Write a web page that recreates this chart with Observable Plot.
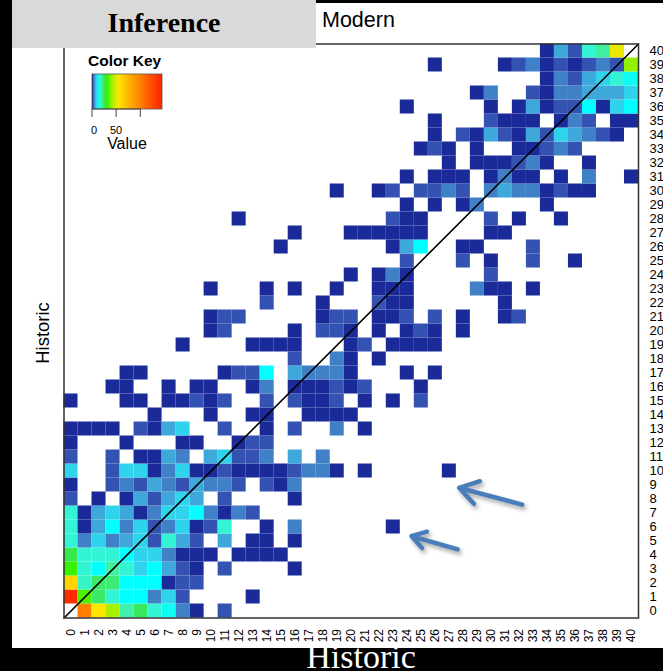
<!DOCTYPE html>
<html>
<head>
<meta charset="utf-8">
<script src="https://cdn.jsdelivr.net/npm/d3@7"></script>
<script src="https://cdn.jsdelivr.net/npm/@observablehq/plot@0.6"></script>
<style>
  html, body { margin: 0; padding: 0; background: #000; }
  #slide { position: relative; width: 663px; height: 671px; background: #000; overflow: hidden; }
  #paper { position: absolute; left: 12px; top: 3px; width: 651px; height: 645px; background: #fff; }
  #chart { position: absolute; left: 0; top: 0; }
  #overlay { position: absolute; left: 0; top: 0; pointer-events: none; }
</style>
</head>
<body>
<div id="slide">
  <div id="paper"></div>
  <div id="chart"></div>
  <svg id="overlay" width="663" height="671"></svg>
</div>
<script>
// ---------------- data ----------------
// tick labels (same categories on both axes)
const tickLabels = [0,1,2,3,4,5,6,7,8,9,10,11,12,13,14,15,16,17,18,19,20,21,22,23,24,25,26,27,28,29,30,31,32,33,34,35,36,37,38,39,40];

// counts: one array per Historic value (top row = 40 first), 41 Modern columns each
const row40 = [0,0,0,0,0,0,0,0,0,0, 0,0,0,0,0,0,0,0,0,0, 0,0,0,0,0,0,0,0,0,0, 0,0,0,0,1,6,2,16,20,52, 0];
const row39 = [0,0,0,0,0,0,0,0,0,0, 0,0,0,0,0,0,0,0,0,0, 0,0,0,0,0,0,1,0,0,0, 0,1,2,4,1,2,1,2,4,2, 40];
const row38 = [0,0,0,0,0,0,0,0,0,0, 0,0,0,0,0,0,0,0,0,0, 0,0,0,0,0,0,0,0,0,0, 0,0,0,0,1,4,2,6,9,16, 13];
const row37 = [0,0,0,0,0,0,0,0,0,0, 0,0,0,0,0,0,0,0,0,0, 0,0,0,0,0,0,0,0,0,1, 4,0,0,2,1,4,4,6,6,6, 9];
const row36 = [0,0,0,0,0,0,0,0,0,0, 0,0,0,0,0,0,0,0,0,0, 0,0,0,0,1,0,0,0,0,0, 1,0,1,6,1,2,2,12,1,9, 12];
const row35 = [0,0,0,0,0,0,0,0,0,0, 0,0,0,0,0,0,0,0,0,0, 0,0,0,0,0,0,1,0,0,0, 2,1,1,1,0,1,4,2,0,1, 1];
const row34 = [0,0,0,0,0,0,0,0,0,0, 0,0,0,0,0,0,0,0,0,0, 0,0,0,0,0,0,1,0,2,1, 6,2,1,6,2,9,6,4,2,1, 0];
const row33 = [0,0,0,0,0,0,0,0,0,0, 0,0,0,0,0,0,0,0,0,0, 0,0,0,0,0,1,2,1,0,1, 0,0,1,1,2,4,2,0,0,0, 0];
const row32 = [0,0,0,0,0,0,0,0,0,0, 0,0,0,0,0,0,0,0,0,0, 0,0,0,0,0,0,0,1,0,1, 1,1,2,4,1,0,0,1,0,0, 0];
const row31 = [0,0,0,0,0,0,0,0,0,0, 0,0,0,0,0,0,0,0,0,0, 0,0,0,0,1,0,1,1,1,0, 1,4,1,1,0,1,0,4,0,0, 1];
const row30 = [0,0,0,0,0,0,0,0,0,0, 0,0,0,0,0,0,0,0,0,1, 0,0,1,2,0,2,2,4,2,0, 4,6,4,4,1,2,1,1,0,0, 0];
const row29 = [0,0,0,0,0,0,0,0,0,0, 0,0,0,0,0,0,0,0,0,0, 0,0,0,0,1,0,1,0,1,4, 0,0,0,0,1,0,0,0,0,0, 0];
const row28 = [0,0,0,0,0,0,0,0,0,0, 0,0,1,0,0,0,0,0,0,0, 0,0,0,2,1,1,0,0,0,0, 2,0,1,0,0,1,0,0,0,0, 0];
const row27 = [0,0,0,0,0,0,0,0,0,0, 0,0,0,0,0,0,1,0,0,0, 1,1,1,1,1,1,0,0,0,0, 1,1,0,0,0,0,0,0,0,0, 0];
const row26 = [0,0,0,0,0,0,0,0,0,0, 0,0,0,0,0,1,0,0,0,0, 0,0,0,1,6,12,0,0,1,1, 0,0,0,2,0,0,0,0,0,0, 0];
const row25 = [0,0,0,0,0,0,0,0,0,0, 0,0,0,0,0,0,0,0,0,0, 0,0,0,0,2,0,0,0,2,0, 1,0,0,2,0,0,1,0,0,0, 0];
const row24 = [0,0,0,0,0,0,0,0,0,0, 0,0,0,0,0,0,0,0,0,0, 1,0,1,4,1,0,0,0,0,0, 2,0,0,0,0,0,0,0,0,0, 0];
const row23 = [0,0,0,0,0,0,0,0,0,0, 1,0,0,0,1,0,1,0,0,1, 0,0,1,1,1,0,0,0,0,4, 1,1,0,1,0,0,0,0,0,0, 0];
const row22 = [0,0,0,0,0,0,0,0,0,0, 0,0,0,0,2,0,0,0,1,0, 0,0,2,1,1,0,0,0,0,0, 0,1,0,0,0,0,0,0,0,0, 0];
const row21 = [0,0,0,0,0,0,0,0,0,0, 1,2,2,0,0,0,0,0,1,2, 2,0,1,1,2,0,2,0,1,0, 0,1,2,0,0,0,0,0,0,0, 0];
const row20 = [0,0,0,0,0,0,0,0,0,0, 1,2,0,0,0,0,1,0,2,2, 1,0,1,0,1,2,1,0,1,0, 0,0,0,0,0,0,0,0,0,0, 0];
const row19 = [0,0,0,0,0,0,0,0,1,0, 0,0,0,1,1,1,1,0,0,0, 1,2,0,1,1,1,1,0,0,0, 0,0,0,0,0,0,0,0,0,0, 0];
const row18 = [0,0,0,0,0,0,0,0,0,0, 0,0,0,0,0,0,2,0,0,4, 1,0,1,0,0,0,0,0,0,0, 0,0,0,0,0,0,0,0,0,0, 0];
const row17 = [0,0,0,0,1,1,0,0,0,0, 0,1,2,2,12,0,6,4,4,4, 1,0,0,0,1,0,1,0,0,0, 0,0,0,0,0,0,0,0,0,0, 0];
const row16 = [0,0,0,1,1,0,0,1,0,1, 1,0,0,1,4,0,1,1,1,2, 1,2,0,0,0,1,0,0,0,0, 0,0,0,0,0,0,0,0,0,0, 0];
const row15 = [1,0,0,0,1,1,0,1,1,2, 1,2,0,0,2,0,2,1,1,2, 0,1,0,1,0,2,0,0,0,0, 0,0,0,0,0,0,0,0,0,0, 0];
const row14 = [0,0,0,0,0,0,1,0,0,0, 1,0,0,1,1,0,0,1,1,1, 1,0,0,0,0,0,0,0,0,0, 0,0,0,0,0,0,0,0,0,0, 0];
const row13 = [1,1,1,1,0,2,1,6,9,0, 0,2,0,0,1,0,2,0,0,4, 0,1,0,0,0,0,0,0,0,0, 0,0,0,0,0,0,0,0,0,0, 0];
const row12 = [1,0,0,0,1,0,0,0,1,1, 0,0,1,2,2,0,0,0,0,0, 0,0,0,0,0,0,0,0,0,0, 0,0,0,0,0,0,0,0,0,0, 0];
const row11 = [2,0,0,2,0,1,1,6,4,0, 6,9,2,2,4,0,6,0,4,0, 0,0,0,0,0,0,0,0,0,0, 0,0,0,0,0,0,0,0,0,0, 0];
const row10 = [9,0,0,2,9,9,1,4,9,1, 1,2,1,1,1,1,2,4,4,1, 0,1,0,0,0,0,0,1,0,0, 0,0,0,0,0,0,0,0,0,0, 0];
const row9  = [1,0,0,2,4,2,6,4,2,6, 4,4,2,0,2,1,4,0,0,0, 0,0,0,0,0,0,0,0,0,0, 0,0,0,0,0,0,0,0,0,0, 0];
const row8  = [2,0,1,0,1,6,2,6,9,6, 0,2,0,0,0,0,1,0,0,0, 0,0,0,0,0,0,0,0,0,0, 0,0,0,0,0,0,0,0,0,0, 0];
const row7  = [16,1,6,9,6,1,4,9,9,12, 4,1,4,2,0,0,0,0,0,0, 0,0,0,0,0,0,0,0,0,0, 0,0,0,0,0,0,0,0,0,0, 0];
const row6  = [16,1,6,12,4,9,2,4,9,1, 2,16,0,0,1,0,4,0,0,0, 0,0,0,1,0,0,0,0,0,0, 0,0,0,0,0,0,0,0,0,0, 0];
const row5  = [16,4,9,4,6,9,2,16,6,2, 0,6,0,1,1,0,1,0,0,0, 0,0,0,0,0,0,0,0,0,0, 0,0,0,0,0,0,0,0,0,0, 0];
const row4  = [26,16,16,16,12,9,9,4,1,1, 1,0,1,1,1,1,0,0,0,0, 0,0,0,0,0,0,0,0,0,0, 0,0,0,0,0,0,0,0,0,0, 0];
const row3  = [32,16,12,20,16,9,12,6,2,1, 0,2,0,0,0,0,1,0,0,0, 0,0,0,0,0,0,0,0,0,0, 0,0,0,0,0,0,0,0,0,0, 0];
const row2  = [62,17,24,23,12,12,12,1,2,2, 0,0,0,0,0,0,0,0,0,0, 0,0,0,0,0,0,0,0,0,0, 0,0,0,0,0,0,0,0,0,0, 0];
const row1  = [140,34,24,16,12,12,4,9,2,0, 0,0,0,1,0,0,0,0,0,0, 0,0,0,0,0,0,0,0,0,0, 0,0,0,0,0,0,0,0,0,0, 0];
const row0  = [0,100,55,42,19,25,16,13,4,1, 0,2,0,0,0,0,0,0,0,0, 0,0,0,0,0,0,0,0,0,0, 0,0,0,0,0,0,0,0,0,0, 0];

// annotation arrows (data units: Modern, Historic)
const arrowFromModern   = [32.7, 28.1];
const arrowFromHistoric = [8.1, 4.9];
const arrowToModern     = [28.2, 24.8];
const arrowToHistoric   = [9.3, 5.85];

// colour key ticks
const keyTicks = [0, 50, 100];
const keyTickLabels = ["0", "50", ""];
const keyMax = 145;

// ---------------- build ----------------
const rowsBottomUp = [row0,row1,row2,row3,row4,row5,row6,row7,row8,row9,row10,row11,row12,row13,row14,row15,row16,row17,row18,row19,row20,
  row21,row22,row23,row24,row25,row26,row27,row28,row29,row30,row31,row32,row33,row34,row35,row36,row37,row38,row39,row40];

const cells = [];
rowsBottomUp.forEach((vals, h) => vals.forEach((v, m) => { if (v > 0) cells.push({modern: tickLabels[m], historic: tickLabels[h], count: v}); }));

const arrows = arrowFromModern.map((_, i) => ({x1: arrowFromModern[i], y1: arrowFromHistoric[i], x2: arrowToModern[i], y2: arrowToHistoric[i]}));

const lo = tickLabels[0], hi = tickLabels[tickLabels.length - 1] + 1;
const tickCenters = tickLabels.map(d => d + 0.5);
const diagonal = [lo, hi];

const colorDomain = [1, 2, 4, 6, 9, 12, 16, 20, 25, 32, 42, 55, 70, 100, 145];
const colorRange = ["#1b2a99", "#3452b2", "#3f80c7", "#3ea8da", "#30d3ec", "#00ffff", "#33f5d5", "#40f0a0", "#38e85a", "#38f000", "#a8f000", "#ffe600", "#ffc000", "#ff8000", "#ff2000"];

const plot = Plot.plot({
  width: 663,
  height: 648,
  marginTop: 43.5,
  marginRight: 25,
  marginBottom: 30.5,
  marginLeft: 63.5,
  style: {background: "transparent", fontFamily: "'Liberation Sans', Arial, Helvetica, sans-serif", fontSize: "13px", color: "#000"},
  x: {domain: [lo, hi]},
  y: {domain: [lo, hi]},
  color: {type: "linear", domain: colorDomain, range: colorRange, interpolate: "rgb", clamp: true},
  marks: [
    Plot.rect(cells, {x1: "modern", x2: d => d.modern + 1, y1: "historic", y2: d => d.historic + 1, fill: "count"}),
    Plot.line(diagonal, {x: d => d, y: d => d, stroke: "#000", strokeWidth: 1.6}),
    Plot.frame({stroke: "#333", strokeWidth: 1.5}),
    Plot.axisY(tickCenters, {anchor: "right", tickSize: 0, tickPadding: 11, tickFormat: d => String(Math.round(d - 0.5)), label: null, fontSize: 13}),
    Plot.axisX(tickCenters, {anchor: "bottom", tickSize: 0, tickPadding: 11, tickRotate: -90, tickFormat: d => String(Math.round(d - 0.5)), label: null, fontSize: 12}),
    Plot.arrow(arrows, {x1: "x1", y1: "y1", x2: "x2", y2: "y2", stroke: "#4a7ebb", strokeWidth: 4.5, headLength: 17, headAngle: 65})
  ]
});
d3.select(plot).selectAll('g[aria-label="arrow"]').style("filter", "drop-shadow(2px 3px 2px rgba(0,0,0,0.35))");
document.getElementById("chart").appendChild(plot);

// ---------------- overlay: slide title box, labels, colour key ----------------
const ov = d3.select("#overlay");
ov.append("rect").attr("x", 12).attr("y", 0).attr("width", 304).attr("height", 48).attr("fill", "#d9d9d9");
ov.append("text").attr("x", 164).attr("y", 32).attr("text-anchor", "middle")
  .attr("font-family", "'Liberation Serif', 'Times New Roman', serif").attr("font-weight", "bold").attr("font-size", 28).text("Inference");
ov.append("text").attr("x", 322).attr("y", 27)
  .attr("font-family", "'Liberation Sans', Arial, sans-serif").attr("font-size", 21.5).text("Modern");
ov.append("text").attr("transform", "translate(49,333) rotate(-90)").attr("text-anchor", "middle")
  .attr("font-family", "'Liberation Sans', Arial, sans-serif").attr("font-size", 18.5).text("Historic");
ov.append("text").attr("x", 361).attr("y", 668).attr("text-anchor", "middle").attr("fill", "#fff")
  .attr("font-family", "'Liberation Serif', 'Times New Roman', serif").attr("font-size", 34).text("Historic");

// colour key
const keyColor = d3.scaleLinear().domain(colorDomain).range(colorRange).interpolate(d3.interpolateRgb).clamp(true);
const kx = d3.scaleLinear().domain([0, keyMax]).range([92, 162]);
const grad = ov.append("defs").append("linearGradient").attr("id", "keygrad").attr("x1", "0%").attr("x2", "100%");
d3.range(0, keyMax + 1, 1).forEach(v => grad.append("stop").attr("offset", (v / keyMax * 100) + "%").attr("stop-color", keyColor(v)));
ov.append("text").attr("x", 88).attr("y", 66).attr("font-family", "'Liberation Sans', Arial, sans-serif")
  .attr("font-weight", "bold").attr("font-size", 15.5).text("Color Key");
ov.append("rect").attr("x", kx(0)).attr("y", 74).attr("width", kx(keyMax) - kx(0)).attr("height", 35)
  .attr("fill", "url(#keygrad)").attr("stroke", "#555").attr("stroke-width", 0.8);
ov.append("line").attr("x1", kx(0)).attr("x2", kx(keyTicks[keyTicks.length - 1])).attr("y1", 109).attr("y2", 109).attr("stroke", "#333").attr("stroke-width", 0.8);
keyTicks.forEach((t, i) => {
  ov.append("line").attr("x1", kx(t)).attr("x2", kx(t)).attr("y1", 109).attr("y2", 117).attr("stroke", "#333").attr("stroke-width", 0.9);
  if (keyTickLabels[i]) ov.append("text").attr("x", kx(t) + (t === 0 ? 2 : 0)).attr("y", 134).attr("text-anchor", "middle")
    .attr("font-family", "'Liberation Sans', Arial, sans-serif").attr("font-size", 11).text(keyTickLabels[i]);
});
ov.append("text").attr("x", 127).attr("y", 149).attr("text-anchor", "middle")
  .attr("font-family", "'Liberation Sans', Arial, sans-serif").attr("font-size", 16).text("Value");
</script>
</body>
</html>
